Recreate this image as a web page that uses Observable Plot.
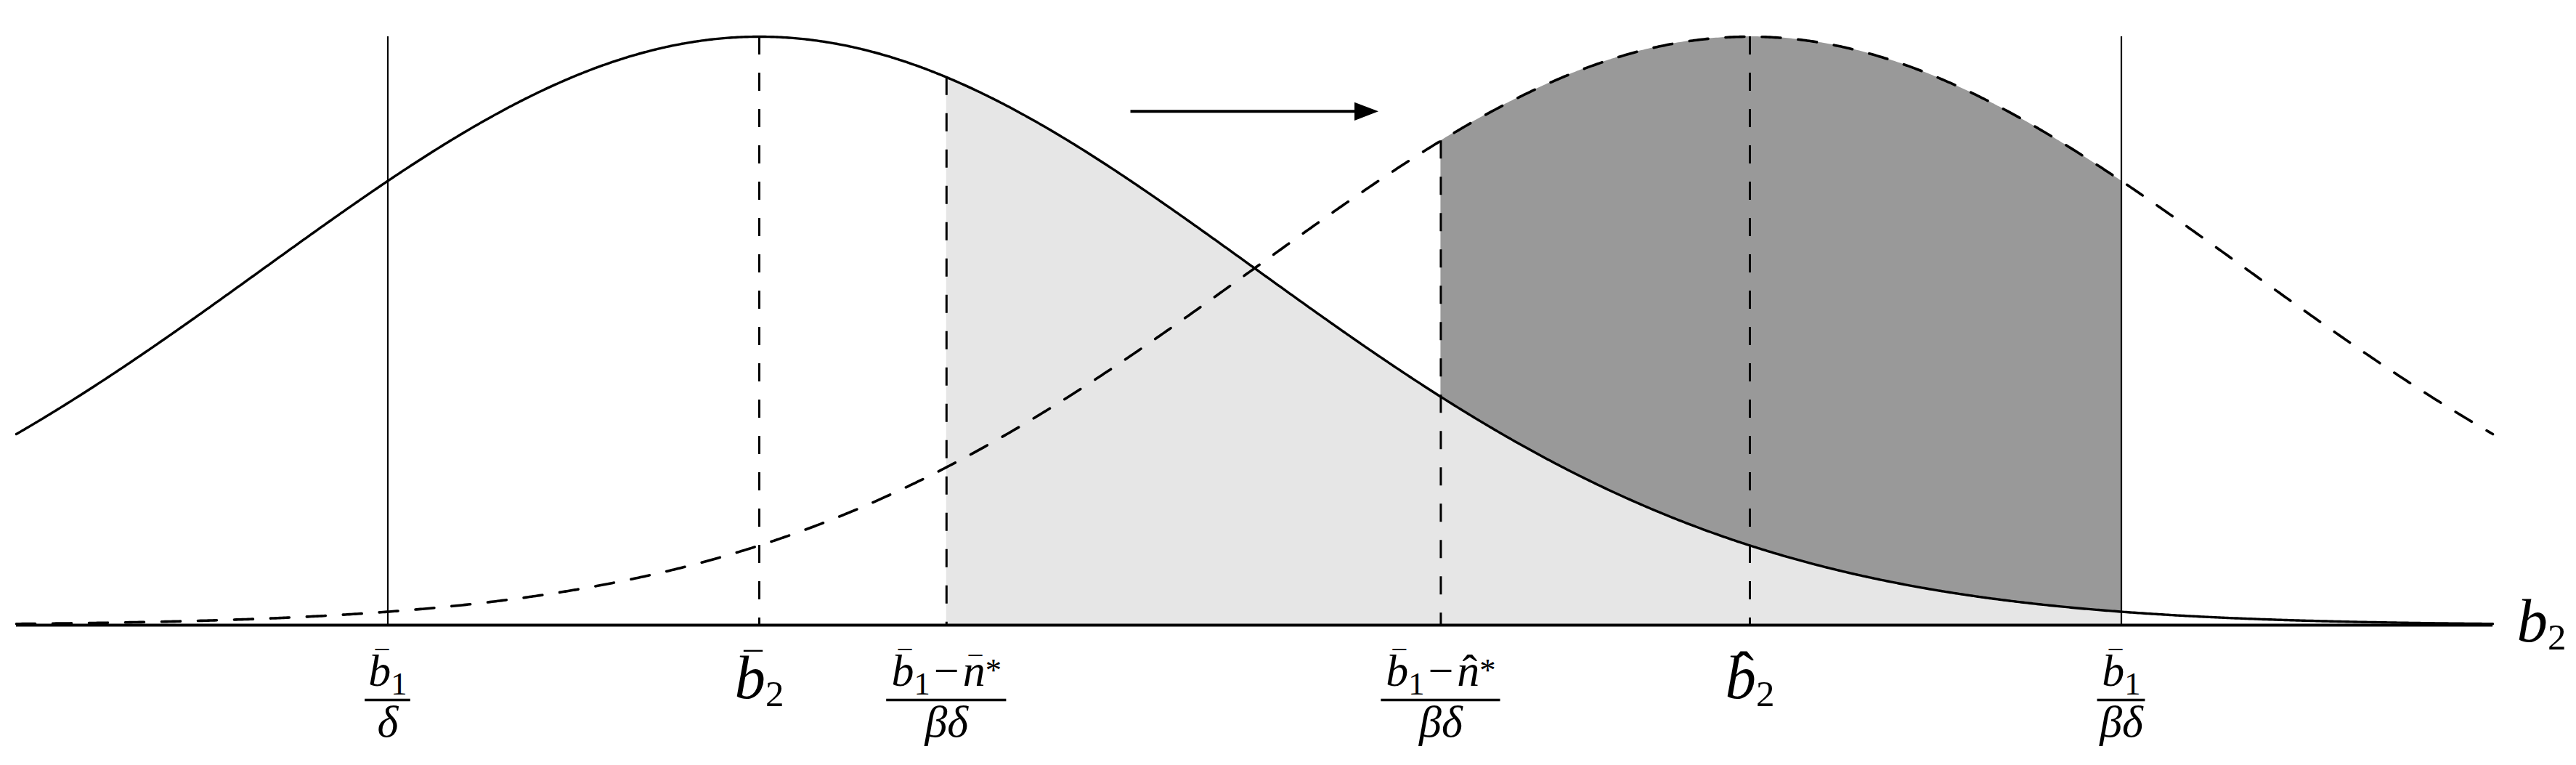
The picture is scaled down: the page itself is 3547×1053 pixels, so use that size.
<!DOCTYPE html>
<html>
<head>
<meta charset="utf-8">
<script src="https://cdn.jsdelivr.net/npm/d3@7"></script>
<script src="https://cdn.jsdelivr.net/npm/@observablehq/plot@0.6"></script>
<style>
  html, body { margin: 0; padding: 0; background: #ffffff; }
  #chart { width: 3547px; height: 1053px; overflow: hidden; }
  #chart text, #chart tspan { font-family: "Liberation Serif", "Times New Roman", serif; }
</style>
</head>
<body>
<div id="chart"></div>
<script>
// ---------------- data ----------------
// Two bell-shaped distributions of b2 (position in units of their spread)
const curveMeans = [0, 2];
const curveSDs = [1, 1];
const xDomain = [-1.5, 3.5];

// Marked points on the b2 axis
const markerPositions = [-0.75, 0, 0.378, 1.376, 2, 2.75];
const markerKinds = ["fraction", "single", "fraction", "fraction", "single", "fraction"];
const markerNumerators = ["b\u0304_1", "b\u0304_2", "b\u0304_1\u2212n\u0304^*", "b\u0304_1\u2212n\u0302^*", "b\u0302_2", "b\u0304_1"];
const markerDenominators = ["\u03b4", "", "\u03b2\u03b4", "\u03b2\u03b4", "", "\u03b2\u03b4"];
const markerLineCurve = [null, 0, 0, 1, 1, null]; // null: full height
const markerLineStyle = ["solid", "dashed", "dashed", "dashed", "dashed", "solid"];

// Shaded ranges
const lightRange = [0.378, 2.75]; // under first curve
const darkRange = [1.376, 2.75];  // under shifted curve

// Shift arrow
const arrowX = [0.75, 1.25];
const arrowY = [0.873];

const axisLabel = "b_2";

// ---------------- layout ----------------
const W = 3547, H = 1053;
const mL = 22, mR = 115, mT = 50, mB = 193;
const pxPerUnit = (W - mL - mR) / (xDomain[1] - xDomain[0]);
const FONT = "Liberation Serif";
const FS_MAIN = 85, FS_FRAC = 62;
const headLen = 33;

const density = (k, x) => Math.exp(-0.5 * ((x - curveMeans[k]) / curveSDs[k]) ** 2);
const sample = (a, b, step = 0.004) => { const xs = d3.range(a, b, step); xs.push(b); return xs; };
const curveData = curveMeans.map((m, k) => sample(xDomain[0], xDomain[1]).map(x => ({x, y: density(k, x)})));
const lightData = sample(lightRange[0], lightRange[1]).map(x => ({x, y: density(0, x)}));
const darkData = sample(darkRange[0], darkRange[1]).map(x => ({x, y: density(1, x)}));

const markerIdx = d3.range(markerPositions.length);
const lineTop = i => markerLineCurve[i] == null ? 1 : density(markerLineCurve[i], markerPositions[i]);
const fracIdx = markerIdx.filter(i => markerKinds[i] === "fraction");
const singleIdx = markerIdx.filter(i => markerKinds[i] === "single");

// ---------------- tiny TeX-like typesetter ----------------
const cvs = document.createElement("canvas");
const ctx = cvs.getContext("2d");
function measure(t, size, italic) {
  ctx.font = `${italic ? "italic " : ""}${size}px "Liberation Serif"`;
  return ctx.measureText(t).width;
}
const isItalic = c => /[A-Za-z\u03b1-\u03c9]/.test(c);

const texOpts = {
  main: {fs: FS_MAIN, subSize: 0.6, subShift: 0.14, supSize: 0.7, supShift: 0.12, opPad: 0.08,
         macronSize: 0.6, macronRaiseTall: 0.32, macronRaiseShort: 0.22,
         hatSize: 1.0, hatRaiseTall: 0.06, hatRaiseShort: 0.0, skewTall: 0.05, skewShort: 0.03},
  frac: {fs: FS_FRAC, subSize: 0.72, subShift: 0.2, supSize: 0.72, supShift: 0.1, opPad: 0.08,
         macronSize: 0.6, macronRaiseTall: 0.34, macronRaiseShort: 0.22,
         hatSize: 1.0, hatRaiseTall: 0.06, hatRaiseShort: 0.0, skewTall: 0.05, skewShort: 0.03}
};

function layoutTex(str, o) {
  const fs = o.fs;
  const segs = [];
  let cur = 0, pendDx = 0, width = 0;
  const chars = Array.from(str);
  for (let i = 0; i < chars.length; i++) {
    const c = chars[i];
    if (c === "_" || c === "^") {
      const s = chars[++i];
      const size = fs * (c === "_" ? o.subSize : o.supSize);
      const target = c === "_" ? o.subShift * fs : -o.supShift * fs;
      const it = isItalic(s);
      const w = measure(s, size, it);
      segs.push({text: s, size, italic: it, dx: pendDx, dy: target - cur});
      width += pendDx + w; pendDx = 0; cur = target;
      continue;
    }
    let acc = null;
    if (chars[i + 1] === "\u0304" || chars[i + 1] === "\u0302") acc = chars[++i];
    const it = isItalic(c);
    const pad = c === "\u2212" ? o.opPad * fs : 0;
    const w = measure(c, fs, it);
    segs.push({text: c, size: fs, italic: it, dx: pendDx + pad, dy: -cur});
    width += pendDx + pad + w; pendDx = pad; cur = 0;
    if (acc) {
      const macron = acc === "\u0304";
      const ach = macron ? "\u00AF" : "\u02C6";
      const asz = fs * (macron ? o.macronSize : o.hatSize);
      const aw = measure(ach, asz, false);
      const tall = /[bdfhklt]/.test(c);
      const raise = fs * (macron ? (tall ? o.macronRaiseTall : o.macronRaiseShort)
                                 : (tall ? o.hatRaiseTall : o.hatRaiseShort));
      const skew = fs * (tall ? o.skewTall : o.skewShort);
      const dx = -w / 2 + skew - aw / 2;
      segs.push({text: ach, size: asz, italic: false, dx, dy: -raise - cur});
      cur = -raise;
      pendDx = pendDx - (dx + aw);
    }
  }
  return {segs, width};
}

function typeset(el, o) {
  const str = el.textContent;
  const {segs} = layoutTex(str, o);
  while (el.firstChild) el.removeChild(el.firstChild);
  el.setAttribute("font-family", FONT);
  for (const s of segs) {
    const t = document.createElementNS("http://www.w3.org/2000/svg", "tspan");
    t.textContent = s.text;
    t.setAttribute("font-family", FONT);
    t.setAttribute("font-size", s.size.toFixed(2));
    t.setAttribute("font-style", s.italic ? "italic" : "normal");
    if (s.dx) t.setAttribute("dx", s.dx.toFixed(2));
    if (s.dy) t.setAttribute("dy", s.dy.toFixed(2));
    el.appendChild(t);
  }
}

// fraction bar half widths (px)
const barHalf = i => {
  const a = layoutTex(markerNumerators[i], texOpts.frac).width;
  const b = layoutTex(markerDenominators[i], texOpts.frac).width;
  return Math.max(a, b) / 2 + 0.05 * FS_FRAC;
};

// arrow head symbol (points to +x)
const arrowHead = {
  draw(context, size) {
    const r = Math.sqrt(size / Math.PI);
    context.moveTo(r, 0);
    context.lineTo(-r, -0.76 * r);
    context.lineTo(-r, 0.76 * r);
    context.closePath();
  }
};

const plot = Plot.plot({
  width: W, height: H,
  marginLeft: mL, marginRight: mR, marginTop: mT, marginBottom: mB,
  x: {domain: xDomain, axis: null},
  y: {domain: [0, 1], axis: null},
  style: {background: "#ffffff", fontFamily: FONT, color: "#000"},
  marks: [
    Plot.areaY(darkData, {x: "x", y: "y", fill: "#999999"}),
    Plot.areaY(lightData, {x: "x", y: "y", fill: "#e6e6e6"}),
    Plot.ruleY([0], {x1: xDomain[0], x2: xDomain[1], stroke: "#000", strokeWidth: 4}),
    Plot.ruleX(markerIdx.filter(i => markerLineStyle[i] === "solid"),
      {x: i => markerPositions[i], y1: lineTop, y2: 0, stroke: "#000", strokeWidth: 2.2}),
    Plot.ruleX(markerIdx.filter(i => markerLineStyle[i] === "dashed"),
      {x: i => markerPositions[i], y1: lineTop, y2: 0, stroke: "#000", strokeWidth: 3, strokeDasharray: "25,25"}),
    Plot.line(curveData[0], {x: "x", y: "y", stroke: "#000", strokeWidth: 3.4}),
    Plot.line(curveData[1], {x: "x", y: "y", stroke: "#000", strokeWidth: 3.6, strokeDasharray: "26,24"}),
    Plot.ruleY(arrowY, {y: d => d, x1: arrowX[0], x2: arrowX[1] - (headLen * 0.8) / pxPerUnit, stroke: "#000", strokeWidth: 4}),
    Plot.dot(arrowY, {x: arrowX[1], y: d => d, r: headLen / 2, symbol: arrowHead, fill: "#000", stroke: "none", dx: -headLen / 2}),
    // fraction labels
    Plot.text(fracIdx, {x: i => markerPositions[i], y: 0, text: i => markerNumerators[i], dy: 83,
      fontSize: FS_FRAC, fontFamily: FONT, lineAnchor: "bottom", textAnchor: "middle", fill: "#000", ariaDescription: "tex-frac"}),
    Plot.ruleY(fracIdx, {y: 0, x1: i => markerPositions[i] - barHalf(i) / pxPerUnit,
      x2: i => markerPositions[i] + barHalf(i) / pxPerUnit, dy: 103, stroke: "#000", strokeWidth: 3.3}),
    Plot.text(fracIdx, {x: i => markerPositions[i], y: 0, text: i => markerDenominators[i], dy: 153,
      fontSize: FS_FRAC, fontFamily: FONT, lineAnchor: "bottom", textAnchor: "middle", fill: "#000", ariaDescription: "tex-frac"}),
    // single labels
    Plot.text(singleIdx, {x: i => markerPositions[i], y: 0, text: i => markerNumerators[i], dy: 100,
      fontSize: FS_MAIN, fontFamily: FONT, lineAnchor: "bottom", textAnchor: "middle", fill: "#000", ariaDescription: "tex-main"}),
    // axis label
    Plot.text([axisLabel], {x: xDomain[1], y: 0, text: d => d, dx: 33, dy: 22,
      fontSize: FS_MAIN, fontFamily: FONT, lineAnchor: "bottom", textAnchor: "start", fill: "#000", ariaDescription: "tex-main"})
  ]
});

plot.querySelectorAll('g[aria-description="tex-frac"] text').forEach(t => typeset(t, texOpts.frac));
plot.querySelectorAll('g[aria-description="tex-main"] text').forEach(t => typeset(t, texOpts.main));

document.getElementById("chart").append(plot);
</script>
</body>
</html>
